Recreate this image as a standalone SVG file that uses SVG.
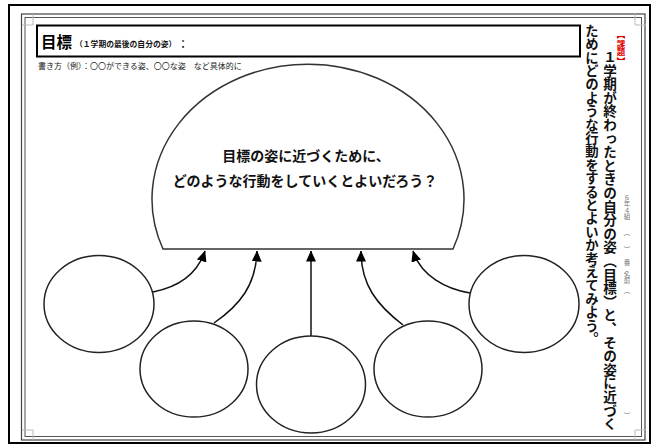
<svg xmlns="http://www.w3.org/2000/svg" width="656" height="444" viewBox="0 0 656 444">
<defs>
<style>
.jp{font-family:"Noto Sans CJK JP","Noto Sans CJK SC",sans-serif;}
.b{font-weight:bold;}
.node{fill:#fff;stroke:#222;stroke-width:1.5;}
.conn{fill:none;stroke:#111;stroke-width:1.5;}
.vt{writing-mode:vertical-rl;}
.mark{fill:none;stroke:#bbb;stroke-width:1;}
</style>
<marker id="ah" viewBox="0 0 11 10" refX="10.5" refY="5" markerWidth="11" markerHeight="10" markerUnits="userSpaceOnUse" orient="auto">
<path d="M0,0 L11,5 L0,10 z" fill="#000"/>
</marker>
</defs>
<rect x="0" y="0" width="656" height="444" fill="#fff"/>
<g id="frame">
<rect x="9" y="5" width="641" height="438" fill="none" stroke="#000" stroke-width="2"/>
<rect x="21.5" y="14" width="623.5" height="426" fill="none" stroke="#444" stroke-width="1.2"/>
<rect x="25" y="17.5" width="616.5" height="419" fill="none" stroke="#555" stroke-width="1"/>
<path class="mark" d="M22,25 H33 V14"/>
<path class="mark" d="M635,14 V25 H646"/>
<path class="mark" d="M635,440 V430 H646"/>
<path class="mark" d="M33,440 V430 H22"/>
</g>
<g id="goal">
<rect x="37" y="25.5" width="543" height="31" fill="#fff" stroke="#000" stroke-width="2"/>
<text class="jp b" x="41" y="48" font-size="15.5" fill="#000">目標</text>
<text class="jp b" x="75" y="47" font-size="7.8" fill="#111">（１学期の最後の自分の姿）</text>
<text class="jp b" x="178" y="47.5" font-size="10" fill="#000">：</text>
<text class="jp" x="38" y="69" font-size="8" fill="#222">書き方（例）：〇〇ができる姿、〇〇な姿　など具体的に</text>
</g>
<g id="task">
<text class="jp b vt" x="621" y="31" font-size="8.5" fill="#e00000">【課題】</text>
<text class="jp b vt" x="610" y="50" font-size="13.6" fill="#111">１学期が終わったときの自分の姿（目標）と、その姿に近づく</text>
<text class="jp b vt" x="592" y="24" font-size="13.4" fill="#111">ためにどのような行動をするとよいか考えてみよう。</text>
</g>
<g id="name" fill="#777" font-size="6.5">
<text class="jp vt" x="627" y="194">６年４組</text>
<text class="jp vt" x="627" y="229">（</text>
<text class="jp vt" x="627" y="246">）</text>
<text class="jp vt" x="627" y="259">番</text>
<text class="jp vt" x="627" y="271">名前</text>
<text class="jp vt" x="627" y="287">（</text>
<text class="jp vt" x="627" y="412">）</text>
</g>
<g id="dome">
<path d="M163,249 A156,135 0 1 1 453,249 Z" fill="#fff" stroke="#333" stroke-width="1.5"/>
<text class="jp b" x="306" y="161" font-size="14" text-anchor="middle" fill="#111">目標の姿に近づくために、</text>
<text class="jp b" x="305" y="185.5" font-size="14" text-anchor="middle" fill="#111">どのような行動をしていくとよいだろう？</text>
</g>
<g id="connectors">
<path class="conn" d="M153,292 C178,287 197,275 205,251" marker-end="url(#ah)"/>
<path class="conn" d="M214,323 C240,305 256,285 257,251" marker-end="url(#ah)"/>
<path class="conn" d="M311,336 L311,251" marker-end="url(#ah)"/>
<path class="conn" d="M403,325 C377,305 361,285 361,251" marker-end="url(#ah)"/>
<path class="conn" d="M470,293 C446,289 421,276 413,251" marker-end="url(#ah)"/>
</g>
<g id="circle1"><ellipse class="node" cx="99" cy="304" rx="55" ry="48.5"/></g>
<g id="circle2"><ellipse class="node" cx="194" cy="369" rx="54" ry="48"/></g>
<g id="circle3"><ellipse class="node" cx="311" cy="384.5" rx="54.5" ry="48.5"/></g>
<g id="circle4"><ellipse class="node" cx="428" cy="369" rx="54" ry="48"/></g>
<g id="circle5"><ellipse class="node" cx="524" cy="304" rx="55" ry="48.5"/></g>
</svg>
